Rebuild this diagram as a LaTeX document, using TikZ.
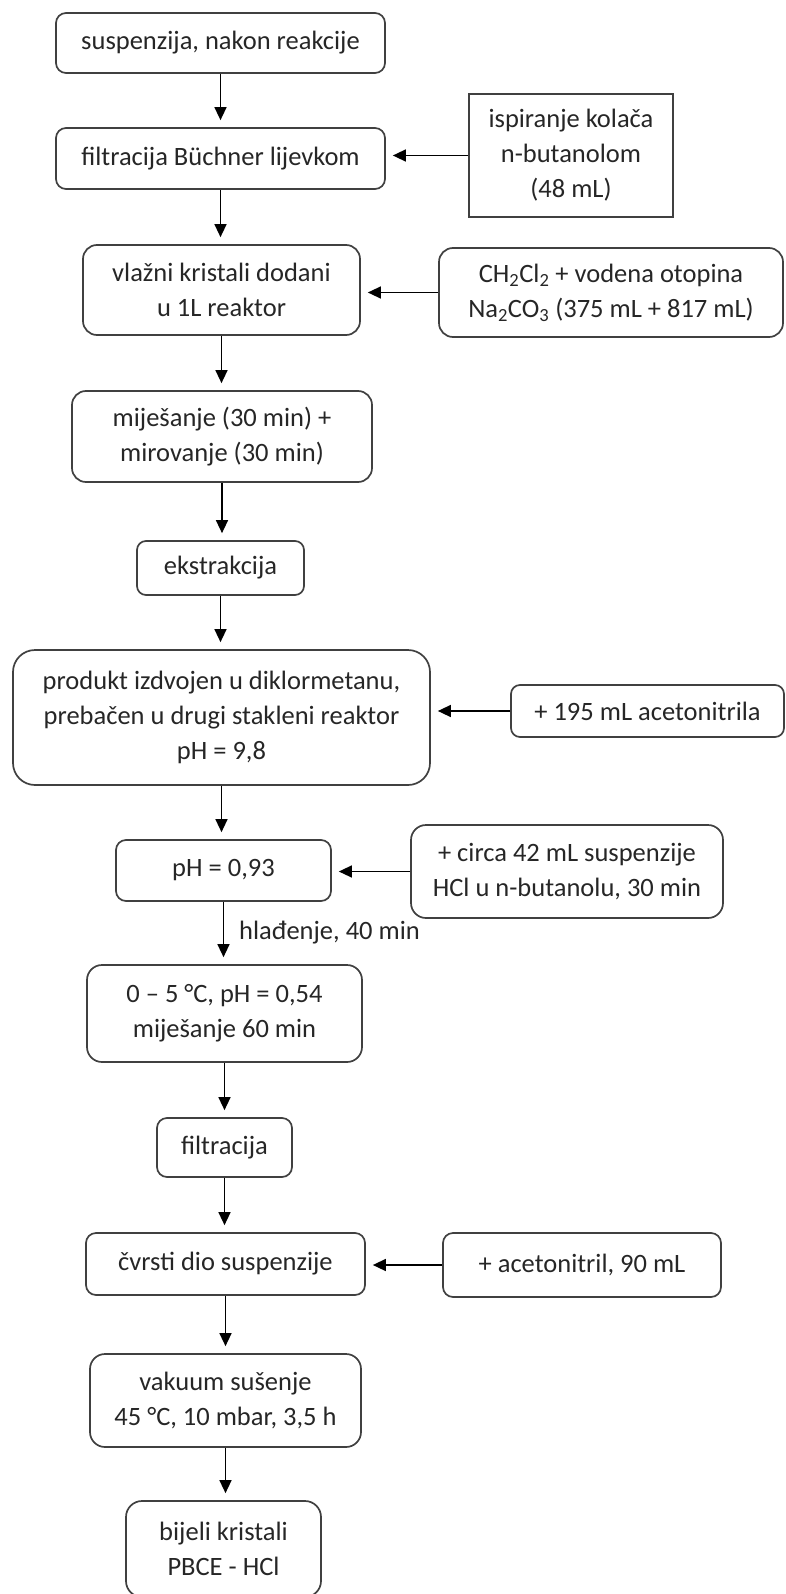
\documentclass[tikz,border=0pt]{standalone}
\usepackage{fontspec}
\setmainfont{Carlito}
\usetikzlibrary{arrows.meta}

\begin{document}
\begin{tikzpicture}[
    x=1pt, y=-1pt,
    every node/.style={font=\fontsize{26.5}{35}\selectfont, text=black!85},
    stepbox/.style={draw=black!75, line width=1.7pt, rounded corners=#1, align=center, inner sep=0pt},
    stepbox/.default=10pt,
    washbox/.style={draw=black!75, line width=1.7pt, align=center, inner sep=0pt},
    flow/.style={-{Triangle[width=12pt,length=13pt]}, line width=1.4pt, shorten >=7pt}
]
\useasboundingbox (0,0) rectangle (785,1594);

% main line of steps
\node[stepbox, minimum width=329pt, minimum height=60pt] (susp) at (220.5,43) {suspenzija, nakon reakcije};
\node[stepbox, minimum width=329pt, minimum height=61pt] (buchner) at (220.5,158.5) {filtracija Büchner lijevkom};
\node[stepbox=14pt, minimum width=277pt, minimum height=90pt] (wet) at (221.5,290) {vlažni kristali dodani\\u 1L reaktor};
\node[stepbox=14pt, minimum width=300pt, minimum height=91pt] (stir) at (222,436.5) {miješanje (30 min) +\\mirovanje (30 min)};
\node[stepbox=9pt, minimum width=167pt, minimum height=54pt] (extr) at (220.5,568) {ekstrakcija};
\node[stepbox=22pt, minimum width=417pt, minimum height=135pt] (prod) at (221.5,717.5) {produkt izdvojen u diklormetanu,\\prebačen u drugi stakleni reaktor\\pH = 9,8};
\node[stepbox, minimum width=215pt, minimum height=61pt] (acid) at (223.5,870.5) {pH = 0,93};
\node[stepbox=15pt, minimum width=275pt, minimum height=97pt] (cold) at (224.5,1013.5) {0 – 5 °C, pH = 0,54\\miješanje 60 min};
\node[stepbox, minimum width=135pt, minimum height=59pt] (filt) at (224.5,1147.5) {filtracija};
\node[stepbox, minimum width=279pt, minimum height=62pt] (solid) at (225.5,1264) {čvrsti dio suspenzije};
\node[stepbox=15pt, minimum width=271pt, minimum height=93pt] (dry) at (225.5,1400.5) {vakuum sušenje\\45 °C, 10 mbar, 3,5 h};
\node[stepbox=16pt, minimum width=195pt, minimum height=96pt] (prodfin) at (223.5,1549) {bijeli kristali\\PBCE - HCl};

% additions on the right
\node[washbox, minimum width=204pt, minimum height=123pt] (wash) at (571,155.5) {ispiranje kolača\\n-butanolom\\(48 mL)};
\node[stepbox=14pt, minimum width=344pt, minimum height=89pt] (dcm) at (611,292.5) {CH\textsubscript{2}Cl\textsubscript{2} + vodena otopina\\Na\textsubscript{2}CO\textsubscript{3} (375 mL + 817 mL)};
\node[stepbox=9pt, minimum width=273pt, minimum height=52pt] (mecn) at (647.5,711) {+ 195 mL acetonitrila};
\node[stepbox=15pt, minimum width=312pt, minimum height=93pt] (hcl) at (567,871.5) {+ circa 42 mL suspenzije\\HCl u n-butanolu, 30 min};
\node[stepbox, minimum width=278pt, minimum height=64pt] (mecnb) at (582,1265) {+ acetonitril, 90 mL};

% vertical flow
\foreach \a/\b in {susp/buchner, buchner/wet, wet/stir, stir/extr, extr/prod, prod/acid, cold/filt, filt/solid, solid/dry, dry/prodfin}
  \draw[flow] (\a.south) -- (\a.south |- \b.north);
\draw[flow] (acid.south) -- (acid.south |- cold.north) node[midway, right, inner sep=0pt, xshift=15pt] (coollbl) {hlađenje, 40 min};

% side arrows
\foreach \s/\t in {wash/buchner, dcm/wet, mecn/prod, hcl/acid, mecnb/solid}
  \draw[flow] (\s.west) -- (\s.west -| \t.east);
\end{tikzpicture}
\end{document}
